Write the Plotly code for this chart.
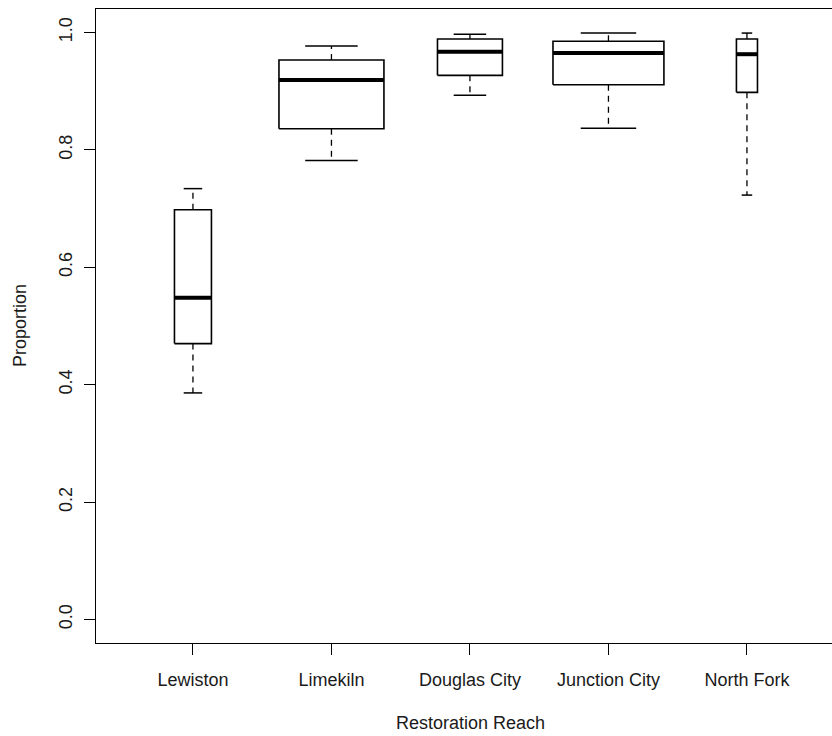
import plotly.graph_objects as go

# ---- data ----
reaches = ["Lewiston", "Limekiln", "Douglas City", "Junction City", "North Fork"]
lower_whisker = [0.386, 0.782, 0.893, 0.837, 0.723]
q1 = [0.470, 0.836, 0.927, 0.911, 0.898]
median = [0.548, 0.919, 0.967, 0.965, 0.963]
q3 = [0.698, 0.953, 0.989, 0.985, 0.989]
upper_whisker = [0.734, 0.977, 0.997, 0.999, 0.999]
y_ticks = [0.0, 0.2, 0.4, 0.6, 0.8, 1.0]

# ---- style (relative box widths, as drawn with varwidth) ----
box_widths = [0.267, 0.758, 0.469, 0.801, 0.152]
FONT = "Liberation Sans, Arial, sans-serif"
TEXT = "#1a1a1a"

positions = list(range(1, len(reaches) + 1))

bx, by, mx, my, wx, wy, sx, sy = [], [], [], [], [], [], [], []
for p, lw, a, m, b, uw, w in zip(positions, lower_whisker, q1, median, q3, upper_whisker, box_widths):
    hw = w / 2
    bx += [p - hw, p + hw, p + hw, p - hw, p - hw, None]
    by += [a, a, b, b, a, None]
    mx += [p - hw, p + hw, None]
    my += [m, m, None]
    wx += [p, p, None, p, p, None]
    wy += [b, uw, None, a, lw, None]
    sx += [p - hw / 2, p + hw / 2, None, p - hw / 2, p + hw / 2, None]
    sy += [uw, uw, None, lw, lw, None]

fig = go.Figure()
fig.add_trace(go.Scatter(x=wx, y=wy, mode="lines", line=dict(color="black", width=1.3, dash="6px,5px"),
                         hoverinfo="skip", showlegend=False))
fig.add_trace(go.Scatter(x=sx, y=sy, mode="lines", line=dict(color="black", width=1.5),
                         hoverinfo="skip", showlegend=False))
fig.add_trace(go.Scatter(x=bx, y=by, mode="lines", line=dict(color="black", width=1.6),
                         fill="toself", fillcolor="white", hoverinfo="skip", showlegend=False))
fig.add_trace(go.Scatter(x=mx, y=my, mode="lines", line=dict(color="black", width=4),
                         hoverinfo="skip", showlegend=False))

fig.update_layout(
    width=832, height=736,
    margin=dict(l=96, r=0, t=9, b=93),
    plot_bgcolor="white", paper_bgcolor="white",
    font=dict(family=FONT, size=18, color=TEXT),
    showlegend=False,
    annotations=[
        dict(text="Restoration Reach", xref="paper", yref="paper", x=(470 - 96) / 736, y=(643 - 723) / 634,
             xanchor="center", yanchor="middle", showarrow=False, font=dict(size=18, family=FONT, color=TEXT)),
        dict(text="Proportion", xref="paper", yref="paper", x=(20 - 96) / 736, y=0.5, textangle=-90,
             xanchor="center", yanchor="middle", showarrow=False, font=dict(size=18, family=FONT, color=TEXT)),
    ],
)
fig.update_xaxes(
    range=[0.3, 0.3 + 736 / 138.5], tickvals=positions, ticktext=reaches,
    showgrid=False, zeroline=False, showline=True, linecolor="black", linewidth=1.3, mirror=True,
    ticks="outside", ticklen=11, tickwidth=1.2, tickcolor="black", ticklabelstandoff=9,
    tickfont=dict(size=18, family=FONT, color=TEXT),
)
fig.update_yaxes(
    range=[-0.04, 1.04], tickvals=y_ticks, ticktext=[f"{v:.1f}" for v in y_ticks],
    tickangle=-90, showgrid=False, zeroline=False, showline=True, linecolor="black", linewidth=1.3,
    ticks="outside", ticklen=11, tickwidth=1.2, tickcolor="black", ticklabelstandoff=5,
    tickfont=dict(size=18, family=FONT, color=TEXT),
)

fig.write_html("out.html")
